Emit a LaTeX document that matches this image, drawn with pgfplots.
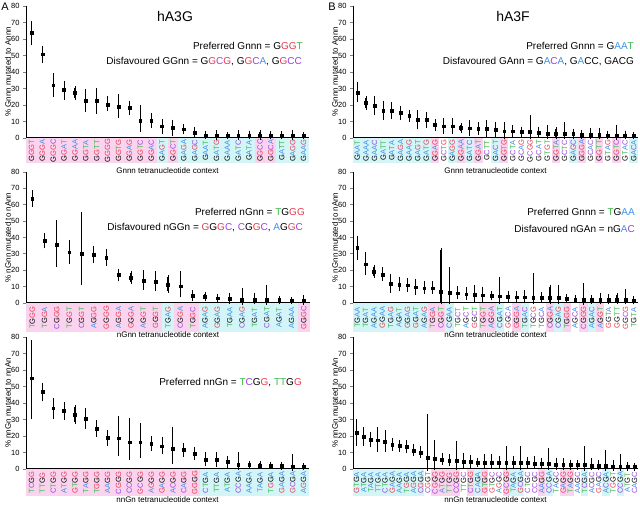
\documentclass[border=0pt]{standalone}
\usepackage{pgfplots}
\pgfplotsset{compat=1.18}
\usepackage{pgfplotstable}
\usepackage{graphicx}
\usepackage{fontspec}
\setmainfont{Liberation Sans}
\definecolor{cG}{HTML}{E8384F}
\definecolor{cA}{HTML}{3F8FE8}
\definecolor{cC}{HTML}{9A3FE0}
\definecolor{cT}{HTML}{3DBA4A}
\definecolor{bgG}{HTML}{FAD4EE}
\definecolor{bgA}{HTML}{D4F5F8}
\definecolor{bgC}{HTML}{FFFFFF}
\definecolor{bgT}{HTML}{FFFFFF}
\newcommand\xx[1]{\textcolor{c#1}{#1}}
\newcommand\lb[2]{{\setlength\fboxsep{0pt}\colorbox{#1}{\parbox[t][\lbH][c]{\lbW}{\centering\rotatebox{90}{#2}}}}}
\newcommand\Pa[4]{\lb{bg#2}{#1\xx#2\xx#3\xx#4}}
\newcommand\Pb[4]{\lb{bg#3}{\xx#1#2\xx#3\xx#4}}
\newcommand\Pc[4]{\lb{bg#4}{\xx#1\xx#2#3\xx#4}}
\def\lbW{10pt}\def\lbH{25pt}

\pgfplotstableread{
y lo hi
64 57.3 69.8
50.8 46.6 54.7
32 26.3 38
29.4 24.5 33.4
27.3 24.3 30.4
22.5 17.2 28.5
22.5 16 29
20.4 17.6 24.1
19.2 13.2 25.3
18.4 15.4 21.5
10.7 5 18.8
10.7 7.5 14
7.1 3.8 10.3
6.1 2.6 9.9
5.3 3.4 7.1
3.4 1.8 5.5
1.6 0.6 3
1.6 0.2 3.4
1.4 0.6 2.4
1.6 0.2 3.8
1.6 0.4 3.2
1.6 0.2 3.8
1.4 0.4 2.8
1.4 0.4 3
1.6 0.2 3.4
1.2 0.6 2.2
}\tA
\pgfplotstableread{
y lo hi
27.6 23 32.5
21.3 18.3 24.5
19.5 15 24.3
16.6 12.2 21.3
16.6 12.6 20.7
15.2 12.2 18.3
13.4 10.8 16
11.2 6.5 15.8
11 7.3 14.8
8 5.7 10.1
7.1 3.6 11.2
7.1 3.6 11.2
6.1 4.3 7.9
5.9 2.4 9.7
5.7 3.2 8.3
5.5 2 9.7
5.1 1.6 8.5
4.1 0.4 8.3
4.1 1.8 6.5
3.9 2 5.7
3.9 0.4 12.8
3.2 1.2 5.5
2.8 0.4 6.5
2.4 0.4 5.5
2.8 0.4 8.5
2.4 0.8 4.5
2 0.6 3.6
2 0.4 4.9
1.8 0.4 4.7
1.6 0.4 2.8
1.4 0.2 6.7
1.6 0.4 3.2
1.4 0.4 2.6
}\tB
\pgfplotstableread{
y lo hi
63.7 59.9 67.6
38.1 34.6 41.5
35.8 23.4 49.3
31 25 37.3
30.3 12 54.6
29.5 25.5 33.8
27.5 23.8 31.8
17.1 14.5 19.6
15.5 12.6 18.5
13.6 9.2 18.9
13.2 8.6 18.3
11.4 7.5 15.9
10.2 4.7 18.3
4.5 2.2 6.9
3.7 2.2 5.3
2.9 1.4 4.5
2.4 0.6 4.9
2 0.2 8.1
2.2 0.4 5.1
2 0.2 9.8
1.8 0.6 3.3
1.4 0.6 2.2
1.4 0.2 3.7
}\tC
\pgfplotstableread{
y lo hi
33.6 27.7 39.8
23.7 18.1 29.8
19.1 16.7 21.7
17.5 14.9 20.5
11.7 7.4 16.5
11.3 8.4 14.7
10.9 8 14.1
9.6 6.4 13.5
9 6.8 12.1
9 6.8 12.1
6.8 0.4 32.2
6.2 0.4 20.5
6 3.6 9.2
5.4 3.2 8.4
5 1.6 9.6
4.8 2 8.8
4.4 3 6
4.2 0.4 14.7
3.8 2 6.4
3.6 1.6 6
3.6 1.2 7
3.2 0.4 16.9
3 1.2 5.4
3 0.4 10
3 0.4 9.6
2.4 1 4
2.2 1.2 3.4
2 0.2 10.9
2 0.8 3.6
1.8 0.4 5
1.8 0.4 4.4
1.8 0.4 5
1.8 0.4 7.4
1.4 0.4 3.2
}\tD
\pgfplotstableread{
y lo hi
55 31.3 76.8
46.9 42.2 51
36.8 31.3 41.8
35.1 31.1 39.2
32.7 28.2 37.4
30.7 25.6 35.5
24.6 20.9 28.4
19.1 15.4 22.3
18.7 9.1 31.1
16.2 6.7 29.6
16.2 8.1 26.8
15.4 12.2 18.9
13.8 10.4 17.9
12.2 4.5 24.4
11.8 8.7 14.6
9.3 6.7 12.2
5.7 2.8 9.3
5.5 2.6 8.9
4.3 2 6.7
2.8 0.4 9.1
2.6 1.6 3.7
2.2 1.2 3.5
2.2 1.2 3.2
1.8 0.8 3.2
1.6 0.2 8.1
1.4 0.6 2.4
}\tE
\pgfplotstableread{
y lo hi
22 15.4 29
19.4 15 24
17.8 14.5 21.4
17.4 11.3 24.2
16.6 11.3 22.4
14.5 11.9 17.8
14.1 11.7 16.6
13.7 10.9 16.6
11.3 8.9 13.7
10.1 7.7 12.9
6.9 0 32.1
6.1 0.8 16.2
5.7 3.6 8.5
5.1 2.8 7.7
4.8 0.4 15.8
4.4 1.6 8.5
4.2 1.6 7.3
4 2.4 5.7
4 1.4 7.7
4 1.2 8.1
3.6 1.2 6.9
3.6 0.4 12.7
3.6 1.2 6.5
3.6 0.4 12.5
3.6 1.6 6.1
3.2 1.2 6.5
3.2 1.2 5.3
3.2 0.4 11.3
2.8 0.8 5.7
2.8 0.8 5.3
2.4 0.8 4.4
2.4 0.8 4
2.4 0.2 12.5
2 0.4 5.3
2 0.4 4
2 0.2 10.5
1.6 0.2 4
1.6 0.2 7.7
1.2 0.2 2.8
1.2 0.2 2.4
}\tF

\pgfplotsset{panel/.style={
  scale only axis, anchor=south west, xmin=0.5, ymin=0, ymax=80,
  axis x line=bottom, axis y line=left,
  axis line style={-, line width=0.8pt},
  x axis line style={line width=1.6pt},
  ytick={0,10,...,80}, tick align=outside, major tick length=3pt,
  ytick style={line width=0.8pt},
  y tick label style={font=\fontsize{7.5}{8}\selectfont, /pgf/number format/assume math mode=true},
  x tick label style={inner sep=0pt, anchor=north, font=\fontsize{7.5}{8}\selectfont},
  xticklabel shift=-3pt,
  xtick style={draw=none},
  every axis x label/.style={at={(axis description cs:0.5,0)}, anchor=center, font=\fontsize{8}{9}\selectfont},
  every axis y label/.style={at={(axis description cs:0,0.5)}, xshift=-18pt, rotate=90, anchor=center, font=\fontsize{8}{9}\selectfont},
  clip=false,
}}
\pgfplotsset{pts/.style={black, only marks, mark=square*, mark size=1.4pt,
  error bars/.cd, y dir=both, y explicit,
  error bar style={line width=1.1pt},
  error mark options={mark size=2pt, line width=0.9pt}}}

\begin{document}
\begin{tikzpicture}
\useasboundingbox (0pt,0pt) rectangle (640pt,504pt);
% ---- top left
\def\lbW{10.885pt}\def\lbH{25pt}
\begin{axis}[panel, at={(26pt,366pt)}, width=283pt, height=132pt, xmax=26.5,
  xtick={1,...,26},
  xticklabels={\Pa GGGT,\Pa GGGA,\Pa GGGC,\Pa GGAT,\Pa GGAA,\Pa GGTA,\Pa GGTT,\Pa GGGG,\Pa GGTG,\Pa GGAG,\Pa GGTC,\Pa GGAC,\Pa GAGT,\Pa GGCT,\Pa GAGA,\Pa GAGC,\Pa GAAT,\Pa GATG,\Pa GAAA,\Pa GATC,\Pa GATA,\Pa GGCC,\Pa GGCA,\Pa GATT,\Pa GAGG,\Pa GAAG},
  xlabel={Gnnn tetranucleotide context}, xlabel style={yshift=-33pt},
  ylabel={\% Gnnn mutated to Annn}]
\addplot[pts] table[x expr=\coordindex+1, y=y, y error plus expr=\thisrow{hi}-\thisrow{y}, y error minus expr=\thisrow{y}-\thisrow{lo}] {\tA};
\end{axis}
% ---- top right
\def\lbW{8.636pt}\def\lbH{25pt}
\begin{axis}[panel, at={(353pt,366pt)}, width=285pt, height=132pt, xmax=33.5,
  xtick={1,...,33},
  xticklabels={\Pa GAAT,\Pa GAAA,\Pa GAAC,\Pa GATT,\Pa GATA,\Pa GAGA,\Pa GAAG,\Pa GAGT,\Pa GATG,\Pa GGAG,\Pa GCTG,\Pa GAGG,\Pa GGAA,\Pa GATC,\Pa GGAT,\Pa GCTT,\Pa GACT,\Pa GGTG,\Pa GCTA,\Pa GCAG,\Pa GCGG,\Pa GCAT,\Pa GTGT,\Pa GGTA,\Pa GCTC,\Pa GAGC,\Pa GGGA,\Pa GCAC,\Pa GGTT,\Pa GTAG,\Pa GGTC,\Pa GTAC,\Pa GACA},
  xlabel={Gnnn tetranucleotide context}, xlabel style={yshift=-33pt},
  ylabel={\% Gnnn mutated to Annn}]
\addplot[pts] table[x expr=\coordindex+1, y=y, y error plus expr=\thisrow{hi}-\thisrow{y}, y error minus expr=\thisrow{y}-\thisrow{lo}] {\tB};
\end{axis}
% ---- middle left
\def\lbW{12.35pt}\def\lbH{29pt}
\begin{axis}[panel, at={(26pt,201pt)}, width=284pt, height=131pt, xmax=23.5,
  xtick={1,...,23},
  xticklabels={\Pb TGGG,\Pb TGGA,\Pb CGGG,\Pb TGGT,\Pb CGGT,\Pb AGGG,\Pb GGGG,\Pb AGGA,\Pb GGGA,\Pb AGGT,\Pb GGGT,\Pb TGAG,\Pb CGGA,\Pb TGGC,\Pb AGAG,\Pb GGAG,\Pb TGAA,\Pb CGAG,\Pb TGAT,\Pb CGAT,\Pb AGAT,\Pb AGAA,\Pb GGGC},
  xlabel={nGnn tetranucleotide context}, xlabel style={yshift=-32pt},
  ylabel={\% nGnn mutated to nAnn}]
\addplot[pts] table[x expr=\coordindex+1, y=y, y error plus expr=\thisrow{hi}-\thisrow{y}, y error minus expr=\thisrow{y}-\thisrow{lo}] {\tC};
\end{axis}
% ---- middle right
\def\lbW{8.38pt}\def\lbH{29pt}
\begin{axis}[panel, at={(353pt,201pt)}, width=285pt, height=131pt, xmax=34.5,
  xtick={1,...,34},
  xticklabels={\Pb TGAA,\Pb TGAT,\Pb AGAA,\Pb GGAA,\Pb TGAG,\Pb AGAT,\Pb GGAG,\Pb GGAT,\Pb AGAG,\Pb TGGA,\Pb CGGT,\Pb CGAA,\Pb TGCT,\Pb AGCT,\Pb GGCT,\Pb TGGT,\Pb AGGA,\Pb CGAT,\Pb GGCA,\Pb GGGA,\Pb TGAC,\Pb TGCG,\Pb TGCA,\Pb CGGA,\Pb CGAG,\Pb TGGG,\Pb AGCA,\Pb CGGG,\Pb AGAC,\Pb AGGT,\Pb GGTA,\Pb GGTT,\Pb GGCG,\Pb TGTA},
  xlabel={nGnn tetranucleotide context}, xlabel style={yshift=-32pt},
  ylabel={\% nGnn mutated to nAnn}]
\addplot[pts] table[x expr=\coordindex+1, y=y, y error plus expr=\thisrow{hi}-\thisrow{y}, y error minus expr=\thisrow{y}-\thisrow{lo}] {\tD};
\end{axis}
% ---- bottom left
\def\lbW{10.885pt}\def\lbH{27pt}
\begin{axis}[panel, at={(26pt,35pt)}, width=283pt, height=132pt, xmax=26.5,
  xtick={1,...,26},
  xticklabels={\Pc TCGG,\Pc TTGG,\Pc CTGG,\Pc ATGG,\Pc GTGG,\Pc TAGG,\Pc TGGG,\Pc AAGG,\Pc CGGG,\Pc CCGG,\Pc GCGG,\Pc AGGG,\Pc GAGG,\Pc ACGG,\Pc CAGG,\Pc GGGG,\Pc CTGA,\Pc TTGA,\Pc ATGA,\Pc CCGA,\Pc AAGA,\Pc TAGA,\Pc TGGA,\Pc GAGA,\Pc GCGA,\Pc AGGA},
  xlabel={nnGn tetranucleotide context}, xlabel style={yshift=-31pt},
  ylabel={\% nnGn mutated to nnAn}]
\addplot[pts] table[x expr=\coordindex+1, y=y, y error plus expr=\thisrow{hi}-\thisrow{y}, y error minus expr=\thisrow{y}-\thisrow{lo}] {\tE};
\end{axis}
% ---- bottom right
\def\lbW{7.125pt}\def\lbH{27pt}
\begin{axis}[panel, at={(353pt,35pt)}, width=285pt, height=132pt, xmax=40.5,
  xtick={1,...,40},
  xticklabels={\Pc GTGA,\Pc ATGA,\Pc TAGA,\Pc TTGA,\Pc CTGA,\Pc GAGA,\Pc AAGA,\Pc TGGA,\Pc AGGA,\Pc CGGA,\Pc CGGT,\Pc CGGG,\Pc ATGG,\Pc TTGG,\Pc CCGG,\Pc TTGC,\Pc CTGG,\Pc CAGA,\Pc GTGG,\Pc GTGC,\Pc AGGC,\Pc GCGG,\Pc TAGA,\Pc GCGA,\Pc CTGC,\Pc CCGC,\Pc AAGG,\Pc CCGA,\Pc TAGC,\Pc GAGG,\Pc TAGG,\Pc AAGC,\Pc TCGA,\Pc ACGC,\Pc GAGC,\Pc ACGA,\Pc TGGT,\Pc CCGA,\Pc ATGT,\Pc CAGC},
  xlabel={nnGn tetranucleotide context}, xlabel style={yshift=-31pt},
  ylabel={\% nnGn mutated to nnAn}]
\addplot[pts] table[x expr=\coordindex+1, y=y, y error plus expr=\thisrow{hi}-\thisrow{y}, y error minus expr=\thisrow{y}-\thisrow{lo}] {\tF};
\end{axis}
% ---- titles and notes
\node[font=\fontsize{11}{12}\selectfont, inner sep=0] at (5pt,497pt) {A};
\node[font=\fontsize{11}{12}\selectfont, inner sep=0] at (332pt,497pt) {B};
\node[font=\fontsize{14}{16}\selectfont, inner sep=0] at (175pt,488pt) {hA3G};
\node[font=\fontsize{14}{16}\selectfont, inner sep=0] at (513pt,488pt) {hA3F};
\begin{scope}[every node/.style={anchor=east, inner sep=0, font=\fontsize{10}{12}\selectfont}]
\node at (303pt,458pt) {Preferred Gnnn = G\xx G\xx G\xx T};
\node at (302pt,442pt) {Disfavoured GGnn = G\xx G\xx C\xx G, G\xx G\xx C\xx A, G\xx G\xx C\xx C};
\node at (634pt,458pt) {Preferred Gnnn = G\xx A\xx A\xx T};
\node at (634pt,442pt) {Disfavoured GAnn = G\xx A\xx C\xx A, G\xx ACC, GACG};
\node at (305pt,292pt) {Preferred nGnn = \xx TG\xx G\xx G};
\node at (303pt,276pt) {Disfavoured nGGn = \xx GG\xx G\xx C, \xx CG\xx G\xx C, \xx AG\xx G\xx C};
\node at (635pt,292pt) {Preferred Gnnn = \xx TG\xx A\xx A};
\node at (635pt,275pt) {Disfavoured nGAn = nG\xx A\xx C};
\node at (302pt,121pt) {Preferred nnGn = \xx T\xx CG\xx G, \xx T\xx TG\xx G};
\end{scope}
\end{tikzpicture}
\end{document}
